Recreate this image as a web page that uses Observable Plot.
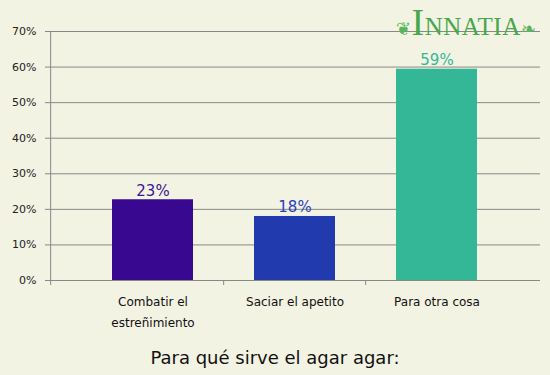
<!DOCTYPE html>
<html><head><meta charset="utf-8">
<script src="https://cdn.jsdelivr.net/npm/d3@7"></script>
<script src="https://cdn.jsdelivr.net/npm/@observablehq/plot@0.6"></script>
<style>
body{margin:0;background:#f3f3e3;width:550px;height:375px;overflow:hidden;position:relative;font-family:"DejaVu Sans",Verdana,sans-serif;}
#title{position:absolute;left:0;width:550px;top:347px;text-align:center;font-size:18px;color:#111;}
#logo{position:absolute;left:396px;top:0px;color:#46a84a;font-family:"Liberation Serif",serif;font-size:25px;letter-spacing:0.5px;white-space:nowrap;}
#logo .big{font-size:38px;}
#logo .orn{font-size:18px;color:#5bb55b;}
</style></head>
<body>
<div id="chart"></div>
<div id="logo"><span class="orn">❦</span><span class="big">I</span>NNATIA<span class="orn">❧</span></div>
<div id="title">Para qué sirve el agar agar:</div>
<script>
const categories = ["Combatir el\nestreñimiento", "Saciar el apetito", "Para otra cosa"];
const values = [22.7, 18.0, 59.4];
const colors = ["#380891", "#213aad", "#33b797"];
const labelColors = ["#3d1397", "#2a3fbb", "#33b797"];
const yTicks = [0, 10, 20, 30, 40, 50, 60, 70];

const data = categories.map((c, i) => ({cat: c, v: values[i], col: colors[i], lc: labelColors[i], lab: Math.round(values[i]) + "%"}));
const bandStart = 81, bandEnd = 509, frameLeft = 50;
const step = (bandEnd - bandStart) / categories.length;

const chart = Plot.plot({
  width: 550, height: 340,
  marginLeft: 50, marginRight: 10, marginTop: 31, marginBottom: 60,
  style: {background: "transparent", fontFamily: "DejaVu Sans, Verdana, sans-serif"},
  x: {type: "band", domain: categories, range: [bandStart, bandEnd], paddingInner: 0.427, paddingOuter: 0.2135, axis: null},
  y: {type: "linear", domain: [0, 70], axis: null},
  marks: [
    Plot.ruleY(yTicks, {stroke: "#888", strokeWidth: 1, strokeOpacity: 1}),
    Plot.ruleX([categories[0]], {x: d => d, dx: -(step / 2 + bandStart - frameLeft), y1: 70, y2: 0, stroke: "#888", strokeOpacity: 1, insetBottom: -5}),
    Plot.ruleX(categories.slice(1), {x: d => d, dx: -step / 2, y1: 0, y2: 0, stroke: "#888", strokeOpacity: 1, insetBottom: -5}),
    Plot.barY(data, {x: "cat", y: "v", fill: "col"}),
    Plot.text(data, {x: "cat", y: "v", text: "lab", fill: "lc", dy: -4, lineAnchor: "bottom", fontSize: 15}),
    Plot.text(categories, {x: d => d, y: 0, text: d => d, dy: 11, lineAnchor: "top", lineHeight: 1.75, fontSize: 12, fill: "#111"}),
    Plot.axisY(yTicks, {anchor: "left", label: null, tickFormat: d => d + "%", tickSize: 5, tickPadding: 9, stroke: "#888", fontSize: 11, fill: "#222"})
  ]
});
document.getElementById("chart").appendChild(chart);
</script>
</body></html>
